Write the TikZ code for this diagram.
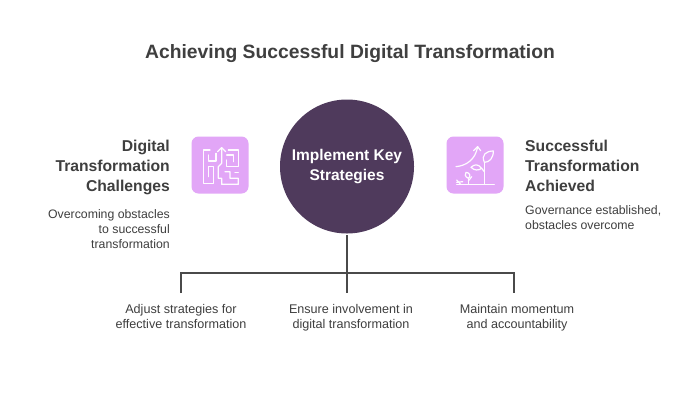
\documentclass[tikz,border=0pt]{standalone}
\usepackage{fontspec}
\setmainfont{Liberation Sans}
\definecolor{ink}{HTML}{3F3F3F}
\definecolor{plum}{HTML}{4F3A5C}
\definecolor{lilac}{HTML}{E2A6F7}
\definecolor{linegray}{HTML}{4A4A4A}
\tikzset{
  titletext/.style={font=\fontsize{19.3}{24}\selectfont\bfseries,text=ink,inner sep=0pt},
  headR/.style={font=\fontsize{15.7}{20}\selectfont\bfseries,text=ink,align=left,anchor=north west,inner sep=0pt},
  headL/.style={font=\fontsize{15.7}{20}\selectfont\bfseries,text=ink,align=right,anchor=north east,inner sep=0pt},
  bodyR/.style={font=\fontsize{12.3}{15.2}\selectfont,text=ink,align=left,anchor=north west,inner sep=0pt},
  bodyL/.style={font=\fontsize{12.3}{15.2}\selectfont,text=ink,align=right,anchor=north east,inner sep=0pt},
  bodyC/.style={font=\fontsize{12.6}{15.2}\selectfont,text=ink,align=center,anchor=north,inner sep=0pt},
  hub/.style={circle,fill=plum,minimum size=134pt,inner sep=0pt,text=white,align=center,font=\fontsize{15.5}{20}\selectfont\bfseries},
  iconbox/.style={rounded corners=7pt,fill=lilac,minimum size=57pt,inner sep=0pt},
  conn/.style={draw=linegray,line width=1.3pt},
  ico/.style={draw=white!96!lilac,line width=1.2pt,line cap=round,line join=round}
}
\begin{document}
\begin{tikzpicture}[x=1pt,y=-1pt]
\useasboundingbox (0,0) rectangle (700,400);
\fill[white] (0,0) rectangle (700,400);
\node[titletext] (title) at (350,54) {Achieving Successful Digital Transformation};
\node[hub] (center) at (347,166.5) {Implement Key\\Strategies};
\node[iconbox] (leftbox) at (220,165) {};
\node[iconbox] (rightbox) at (475,165) {};
\node[headL] (lefthead) at (170,140) {Digital\\Transformation\\Challenges};
\node[bodyL] (leftbody) at (170,209) {Overcoming obstacles\\to successful\\transformation};
\node[headR] (righthead) at (525,140) {Successful\\Transformation\\Achieved};
\node[bodyR] (rightbody) at (525,205) {Governance established,\\obstacles overcome};
\node[bodyC] (b1) at (181,304) {Adjust strategies for\\effective transformation};
\node[bodyC] (b2) at (351,304) {Ensure involvement in\\digital transformation};
\node[bodyC] (b3) at (517,304) {Maintain momentum\\and accountability};
\coordinate (top) at (347,235);
\coordinate (jl) at (181,273);
\coordinate (jr) at (514,273);
\coordinate (el) at (181,293);
\coordinate (em) at (347,293);
\coordinate (er) at (514,293);
\draw[conn] (top) -- (em);
\draw[conn] (el) -- (jl) -- (jr) -- (er);
% maze icon
\begin{scope}[ico,shift={(180,125)},x=0.3333pt,y=-0.3333pt]
\draw (90,75) -- (70,75) -- (70,175) -- (100,175) -- (100,125) -- (85,125) -- (85,155);
\draw (85,90) -- (85,108) -- (108,108) -- (108,85);
\draw (125,68) -- (125,115) -- (115,125) -- (115,160) -- (125,160) -- (125,178) -- (175,178) -- (175,160) -- (150,160) -- (150,140) -- (135,140);
\draw (113,80) -- (125,68) -- (137,80);
\draw (145,75) -- (175,75) -- (175,125) -- (140,125) -- (140,105);
\draw (140,90) -- (160,90) -- (160,110);
\draw (165,142) -- (175,142);
\end{scope}
% plant icon
\begin{scope}[ico,shift={(436,125)},x=0.3333pt,y=-0.3333pt]
\draw (62,178) -- (175,178);
\draw (62,165) -- (74,178);
\draw (62,172) -- (80,170);
\draw (60,125) .. controls (90,122) and (118,105) .. (125,65);
\draw (113,77) -- (125,65) -- (134,77);
\draw (145,178) -- (145,112);
\draw (145,112) .. controls (135,90) and (150,78) .. (172,78) .. controls (172,100) and (160,112) .. (145,112);
\draw (145,140) -- (137,130);
\draw (137,130) .. controls (125,115) and (115,118) .. (105,127) .. controls (115,137) and (128,137) .. (137,130);
\draw (97,178) -- (97,160);
\draw (97,160) .. controls (85,155) and (87,145) .. (90,142) .. controls (102,142) and (105,155) .. (97,160);
\draw (97,168) -- (107,155);
\end{scope}
\end{tikzpicture}
\end{document}
